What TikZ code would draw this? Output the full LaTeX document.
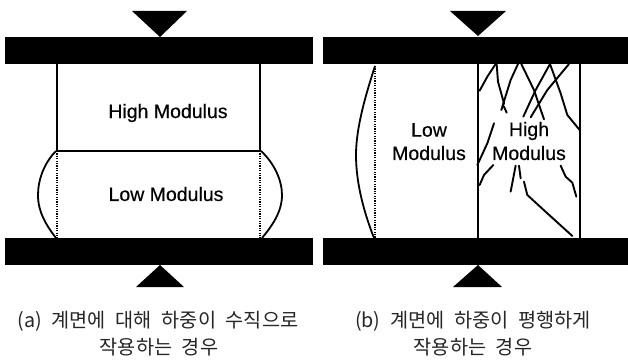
\documentclass[tikz,border=0pt]{standalone}
\usepackage{fontspec}
\setmainfont{Liberation Sans}
\newfontfamily\labfont[RawFeature={embolden=0.4}]{Liberation Sans}
\newfontfamily\krfont[WordSpace=2.2]{Noto Sans CJK KR}
\begin{document}
\begin{tikzpicture}[x=1pt,y=-1pt,
  lab/.style={inner sep=0pt,font=\labfont\fontsize{19.5}{23}\selectfont,text=black},
  captext/.style={inner sep=0pt,font=\krfont\fontsize{19.7}{23}\selectfont,text=black!85},
  wall/.style={line width=2pt,black},
  dots/.style={line width=1.5pt,black,dash pattern=on 1.2pt off 1.2pt},
  bulge/.style={line width=1.8pt,black},
  crack/.style={line width=1.9pt,black,line join=round,line cap=round}]
\useasboundingbox (0,0) rectangle (628,363);
\fill[white] (0,0) rectangle (628,363);
% panel a
\fill (5,37) rectangle (313,64);
\fill (5,238) rectangle (313,265);
\fill (132,11) -- (187,11) -- (160,37) -- cycle;
\fill (136,287) -- (184,287) -- (160,265) -- cycle;
\draw[wall] (57,64) -- (57,151) -- (260,151) -- (260,64);
\draw[dots] (57,151) -- (57,238);
\draw[dots] (260,151) -- (260,238);
\draw[bulge] (56,151) .. controls (44,163) and (38,180) .. (38,195) .. controls (38,212) and (46,225) .. (56,238);
\draw[bulge] (261,151) .. controls (274,163) and (282,180) .. (282,195) .. controls (282,212) and (272,226) .. (262,238);
\node[lab] (ha) at (168,113) {High Modulus};
\node[lab] (la) at (166,194) {Low Modulus};
% panel b
\fill (323,37) rectangle (628,64);
\fill (323,238) rectangle (628,265);
\fill (450,11) -- (506,11) -- (478,36) -- cycle;
\fill (453,287) -- (502,287) -- (478,265) -- cycle;
\draw[wall] (478,64) -- (478,238);
\draw[wall] (580,64) -- (580,238);
\draw[dots] (375,66) -- (375,238);
\draw[bulge] (375,66) .. controls (368,88) and (356,125) .. (356,155) .. controls (356,185) and (365,215) .. (374,238);
\node[lab] (lb1) at (429,130) {Low};
\node[lab] (lb2) at (429,153) {Modulus};
\node[lab] (hb1) at (529,131) {High};
\node[lab] (hb2) at (529,153) {Modulus};
\begin{scope}[shift={(314,0)},x=0.3333pt,y=-0.3333pt]
\draw[crack] (545,192) -- (520,230) -- (497,272);
\draw[crack] (548,192) -- (552,245) -- (570,310) -- (562,330);
\draw[crack] (570,320) -- (578,338);
\draw[crack] (612,192) -- (590,240) -- (565,320);
\draw[crack] (622,192) -- (660,270) -- (690,358);
\draw[crack] (708,192) -- (665,270) -- (628,350);
\draw[crack] (765,192) -- (700,270) -- (650,352);
\draw[crack] (708,192) -- (740,280) -- (760,345) -- (797,390);
\draw[crack] (540,370) -- (520,430) -- (490,495);
\draw[crack] (538,495) -- (510,525) -- (497,555);
\draw[crack] (605,497) -- (590,575);
\draw[crack] (615,497) -- (620,535);
\draw[crack] (630,545) -- (640,585) -- (700,640) -- (775,708);
\draw[crack] (740,497) -- (755,530) -- (775,548) -- (787,590);
\end{scope}
% captions
\node[captext] (ca1) at (158,321) {(a) 계면에 대해 하중이 수직으로};
\node[captext] (ca2) at (159,347) {작용하는 경우};
\node[captext] (cb1) at (473,321) {(b) 계면에 하중이 평행하게};
\node[captext] (cb2) at (473,347) {작용하는 경우};
\end{tikzpicture}
\end{document}
